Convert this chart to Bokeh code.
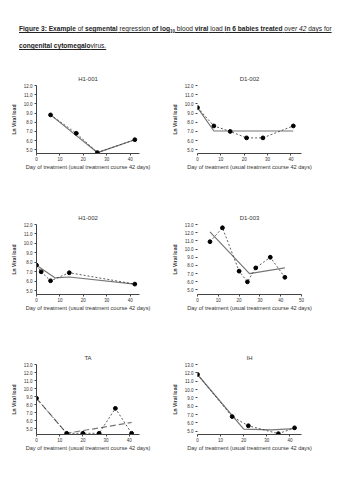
from bokeh.plotting import figure
from bokeh.layouts import column, row
from bokeh.models import Range1d, FixedTicker, NumeralTickFormatter, Div
from bokeh.embed import file_html
from bokeh.resources import INLINE

# ---------------- data ----------------
panel_titles = ["H1-001", "D1-002", "H1-002", "D1-003", "TA", "IH"]
x_label = "Day of treatment (usual treatment course 42 days)"
y_label = "Ln Viral load"

h1_001_day = [6, 17, 26, 42]
h1_001_vl = [8.8, 6.8, 4.7, 6.1]
h1_001_reg_day = [6, 26, 42]
h1_001_reg_vl = [8.8, 4.7, 6.1]

d1_002_day = [0, 7, 14, 21, 28, 41]
d1_002_vl = [9.6, 7.6, 7.0, 6.3, 6.3, 7.6]
d1_002_reg_day = [0, 7, 41]
d1_002_reg_vl = [9.6, 7.05, 7.05]

h1_002_day = [0, 2, 6, 14, 42]
h1_002_vl = [7.7, 7.0, 6.05, 6.9, 5.7]
h1_002_reg_day = [0, 8, 14, 42]
h1_002_reg_vl = [7.7, 6.35, 6.45, 5.7]

d1_003_day = [6, 12, 20, 24, 28, 35, 42]
d1_003_vl = [10.9, 12.6, 7.3, 6.0, 7.7, 9.0, 6.55]
d1_003_reg_day = [6, 25, 42]
d1_003_reg_vl = [12.1, 7.0, 7.7]

ta_day = [0, 13, 20, 27, 34, 41]
ta_vl = [8.8, 4.45, 4.45, 4.45, 7.55, 4.45]
ta_reg_day = [0, 13, 41]
ta_reg_vl = [8.8, 4.45, 5.8]

ih_day = [0, 15, 22, 35, 42]
ih_vl = [11.8, 6.75, 5.65, 4.7, 5.4]
ih_reg_day = [0, 20, 32, 42]
ih_reg_vl = [11.8, 5.25, 5.15, 5.3]

x_ticks_40 = [0, 10, 20, 30, 40]
x_ticks_50 = [0, 10, 20, 30, 40, 50]
y_ticks_12 = [5, 6, 7, 8, 9, 10, 11, 12]
y_ticks_13 = [5, 6, 7, 8, 9, 10, 11, 12, 13]

FONT = "Liberation Sans"

# layout geometry (col: width, border_left, frame_w) (row: height, border_top, frame_h)
col_geo = [(166, 36, 103), (178, 31, 104)]
row_geo = [(140, 23, 68), (140, 22, 70), (132, 22, 70)]


def make_panel(title, day, vl, reg_day, reg_vl, xr, yr, xticks, yticks, ci, ri, reg_dash):
    w, bl, fw = col_geo[ci]
    h, bt, fh = row_geo[ri]
    p = figure(width=w, height=h, output_backend="svg", toolbar_location=None,
               x_range=Range1d(*xr), y_range=Range1d(*yr),
               min_border_left=bl, min_border_right=w - bl - fw,
               min_border_top=bt, min_border_bottom=h - bt - fh,
               background_fill_color="white", border_fill_color="white")
    p.outline_line_color = None
    p.xgrid.visible = False
    p.ygrid.visible = False
    p.title.text = title
    p.title.align = "center"
    p.title.vertical_align = "top"
    p.title.text_font = FONT
    p.title.text_font_size = "6px"
    p.title.text_font_style = "normal"
    p.title.text_color = "#333333"
    p.title.standoff = 3
    for ax in (p.xaxis[0], p.yaxis[0]):
        ax.major_tick_out = 2
        ax.major_tick_in = 0
        ax.minor_tick_line_color = None
        ax.major_label_text_font = FONT
        ax.major_label_text_font_size = "4.5px"
        ax.major_label_text_color = "#333333"
        ax.axis_line_color = "#444444"
        ax.major_tick_line_color = "#444444"
        ax.axis_label_text_font = FONT
        ax.axis_label_text_color = "#333333"
    p.xaxis.ticker = FixedTicker(ticks=xticks)
    p.yaxis.ticker = FixedTicker(ticks=yticks)
    p.yaxis.formatter = NumeralTickFormatter(format="0.0")
    p.xaxis.axis_label = x_label
    p.xaxis.axis_label_text_font_size = "5.6px"
    p.xaxis.axis_label_text_font_style = "normal"
    p.xaxis.axis_label_standoff = 0
    p.xaxis.major_label_standoff = 1
    p.yaxis.axis_label = y_label
    p.yaxis.axis_label_text_font_size = "5px"
    p.yaxis.axis_label_text_font_style = "bold"
    p.yaxis.axis_label_standoff = 4
    p.yaxis.major_label_standoff = 2
    if ci == 1:
        p.yaxis.axis_line_color = None
    p.line(reg_day, reg_vl, line_color="#777777", line_width=1.2, line_dash=reg_dash)
    p.line(day, vl, line_color="#333333", line_width=0.8, line_dash="2 2")
    p.scatter(day, vl, marker="circle", size=3.8, fill_color="black", line_color="black")
    return p


p1 = make_panel(panel_titles[0], h1_001_day, h1_001_vl, h1_001_reg_day, h1_001_reg_vl,
                (0, 44), (4.6, 12), x_ticks_40, y_ticks_12, 0, 0, "solid")
p2 = make_panel(panel_titles[1], d1_002_day, d1_002_vl, d1_002_reg_day, d1_002_reg_vl,
                (0, 44.5), (4.6, 12), x_ticks_40, y_ticks_12, 1, 0, "solid")
p3 = make_panel(panel_titles[2], h1_002_day, h1_002_vl, h1_002_reg_day, h1_002_reg_vl,
                (0, 44), (4.6, 12), x_ticks_40, y_ticks_12, 0, 1, "solid")
p4 = make_panel(panel_titles[3], d1_003_day, d1_003_vl, d1_003_reg_day, d1_003_reg_vl,
                (0, 50), (4.45, 13), x_ticks_50, y_ticks_13, 1, 1, "solid")
p5 = make_panel(panel_titles[4], ta_day, ta_vl, ta_reg_day, ta_reg_vl,
                (0, 44.4), (4.3, 13), x_ticks_40, y_ticks_13, 0, 2, "6 3")
p6 = make_panel(panel_titles[5], ih_day, ih_vl, ih_reg_day, ih_reg_vl,
                (0, 45), (4.6, 13), x_ticks_40, y_ticks_13, 1, 2, "solid")

caption_html = (
    "<u><b>Figure 3: Example</b> of <b>segmental</b> regression <b>of log"
    "<sub style='font-size:4.5px;line-height:0'>10</sub></b> blood "
    "<b>viral</b> load <b>in 6 babies treated</b> <i>over 42</i> days for</u><br>"
    "<u><b>congenital cytomegalo</b>virus.</u>"
)
caption = Div(text=caption_html, width=344, height=52,
              styles={"padding": "15px 0 0 14px", "line-height": "17px",
                      "font-size": "6.6px", "font-family": FONT, "color": "#222222",
                      "box-sizing": "border-box"})

layout = column(caption, row(p1, p2), row(p3, p4), row(p5, p6))
open("out.html", "w").write(file_html(layout, INLINE))
